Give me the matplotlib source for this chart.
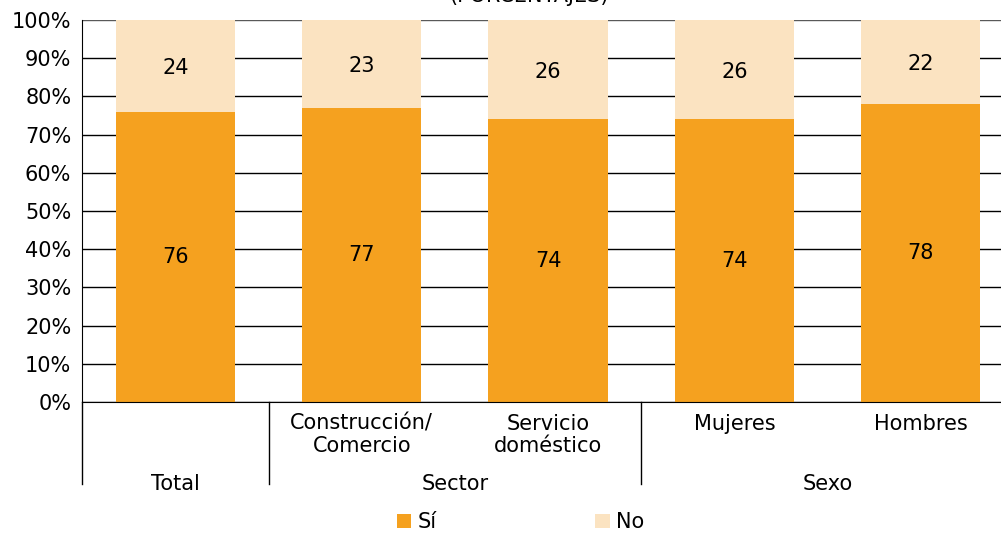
import matplotlib.pyplot as plt
import matplotlib.transforms as mtransforms
import numpy as np

# Data
subcats = ['', 'Construcción/\nComercio', 'Servicio\ndoméstico', 'Mujeres', 'Hombres']
groups = ['Total', 'Sector', 'Sexo']
group_spans = [(0, 0), (1, 2), (3, 4)]
si = [76, 77, 74, 74, 78]
no = [24, 23, 26, 26, 22]
ticks = [0, 10, 20, 30, 40, 50, 60, 70, 80, 90, 100]

c_si = '#F5A11F'
c_no = '#FBE3C1'
fs = 15

plt.rcParams['font.family'] = ['DejaVu Sans']
fig = plt.figure(figsize=(10.01, 5.34), dpi=100)
ax = fig.add_axes([0.0823, 0.247, 0.9304, 0.7154])

x = np.arange(len(si))
b1 = ax.bar(x, si, width=0.64, color=c_si, label='Sí', zorder=2)
b2 = ax.bar(x, no, width=0.64, bottom=si, color=c_no, label='No', zorder=2)

for i in range(len(si)):
    ax.text(x[i], si[i] / 2, str(si[i]), ha='center', va='center', fontsize=fs, zorder=3)
    ax.text(x[i], si[i] + no[i] / 2 - 0.6, str(no[i]), ha='center', va='center', fontsize=fs, zorder=3)

ax.set_xlim(-0.5, len(si) - 0.5)
ax.set_ylim(0, 100)
ax.set_yticks(ticks)
ax.set_yticklabels([f'{t}%' for t in ticks], fontsize=fs)
ax.yaxis.grid(True, color='black', linewidth=1, zorder=0)
ax.set_axisbelow(True)
ax.tick_params(axis='y', length=0, pad=8)
ax.set_xticks([])
ax.get_ygridlines()[-1].set_color('#595959')
for s in ['top', 'right']:
    ax.spines[s].set_visible(False)
ax.spines['left'].set_color('black')
ax.spines['bottom'].set_color('black')
ax.spines['bottom'].set_zorder(3)

trans = mtransforms.blended_transform_factory(ax.transData, ax.transAxes)
for i, lab in enumerate(subcats):
    ax.text(x[i], -0.03, lab, transform=trans, ha='center', va='top',
            fontsize=fs, linespacing=1.15)

bounds = [-0.5, 0.5, 2.5, 4.5]
for b in bounds:
    ax.plot([b, b], [0, -0.215], transform=trans, color='black', lw=1, clip_on=False)
for g, (a, b) in zip(groups, group_spans):
    ax.text((a + b) / 2, -0.214, g, transform=trans, ha='center', va='center', fontsize=fs)

fig.text(0.528, 1 - 2 / 534, '(PORCENTAJES)', ha='center', va='baseline', fontsize=fs)

fig.legend(handles=[b1, b2], loc='center', bbox_to_anchor=(0.52, 0.022), ncol=2,
           frameon=False, fontsize=fs, handlelength=0.7, handleheight=0.7,
           handletextpad=0.3, columnspacing=7.6)

fig.savefig('out.png', dpi=100)
